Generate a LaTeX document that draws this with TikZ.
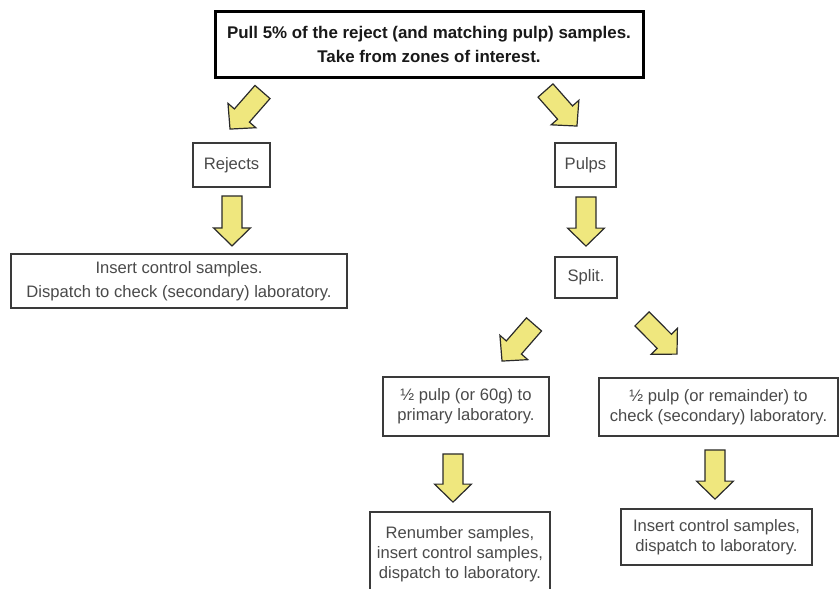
\documentclass[tikz,border=0pt]{standalone}
\usepackage{fontspec}
\setmainfont{Liberation Sans}
\usetikzlibrary{calc}
\definecolor{boxline}{HTML}{3A3A3A}
\definecolor{boxtext}{HTML}{4A4A4A}
\definecolor{arrowfill}{HTML}{EFE77E}
\definecolor{arrowline}{HTML}{2A2A2A}

\begin{document}
\begin{tikzpicture}[x=1pt, y=-1pt,
  box/.style={draw=boxline, line width=1.8pt, fill=white, text=boxtext, inner sep=0pt,
    align=center, font=\fontsize{16.6}{20}\selectfont},
  fat/.style={draw=arrowline, line width=1.2pt, fill=arrowfill, line join=miter,
    to path={let \p1=(\tikztostart), \p2=(\tikztotarget),
      \n1={atan2(\y2-\y1,\x2-\x1)}, \n2={veclen(\x2-\x1,\y2-\y1)} in
      [shift={(\p1)}, rotate=\n1]
      (0,-10) -- ({\n2-18},-10) -- ({\n2-18},-18.5) -- (\n2,0)
      -- ({\n2-18},18.5) -- ({\n2-18},10) -- (0,10) -- cycle}}]
\useasboundingbox (0,0) rectangle (839,589);

% boxes
\node [box, draw=black, line width=3pt, text=black!90, minimum width=428pt, minimum height=66pt,
  font=\fontsize{16.9}{24}\selectfont\bfseries] (top) at (429,44)
  {Pull 5\% of the reject (and matching pulp) samples.\\Take from zones of interest.};
\node [box, minimum width=77pt, minimum height=44pt] (rej) at (231.5,165) {Rejects};
\node [box, minimum width=61pt, minimum height=44pt] (pulps) at (585.5,165) {Pulps};
\node [box, minimum width=336pt, minimum height=54pt, font=\fontsize{16.6}{24.5}\selectfont] (ins) at (179,281)
  {Insert control samples.\\Dispatch to check (secondary) laboratory.};
\node [box, minimum width=62pt, minimum height=41pt] (split) at (586,277.5) {Split.};
\node [box, minimum width=166pt, minimum height=59pt] (half1) at (466,406.5)
  {½ pulp (or 60g) to\\primary laboratory.};
\node [box, minimum width=239pt, minimum height=58pt] (half2) at (718.5,407)
  {½ pulp (or remainder) to\\check (secondary) laboratory.};
\node [box, minimum width=180pt, minimum height=84pt] (renum) at (460,554)
  {Renumber samples,\\insert control samples,\\dispatch to laboratory.};
\node [box, minimum width=191pt, minimum height=56pt] (ins2) at (716.5,537)
  {Insert control samples,\\dispatch to laboratory.};

% fat arrows
\draw [fat] ($(top.south west)+(49,13.5)$) to ($(rej.north)+(-1.5,-13)$);
\draw [fat] ($(top.south east)+(-99,12)$) to ($(pulps.north)+(-8.5,-16)$);
\draw [fat] ($(rej.south)+(0.5,8)$) to ($(rej.south)+(0.5,58)$);
\draw [fat] ($(pulps.south)+(0.5,9)$) to ($(split.north)+(0,-10)$);
\draw [fat] ($(split.south)+(-52,25.5)$) to ($(half1.north)+(36,-15)$);
\draw [fat] ($(split.south)+(56,20)$) to ($(half2.north)+(-41.5,-23)$);
\draw [fat] ($(half1.south)+(-13,17)$) to ($(renum.north)+(-7,-9)$);
\draw [fat] ($(half2.south)+(-3.5,13)$) to ($(ins2.north)+(-1.5,-9)$);
\end{tikzpicture}
\end{document}
